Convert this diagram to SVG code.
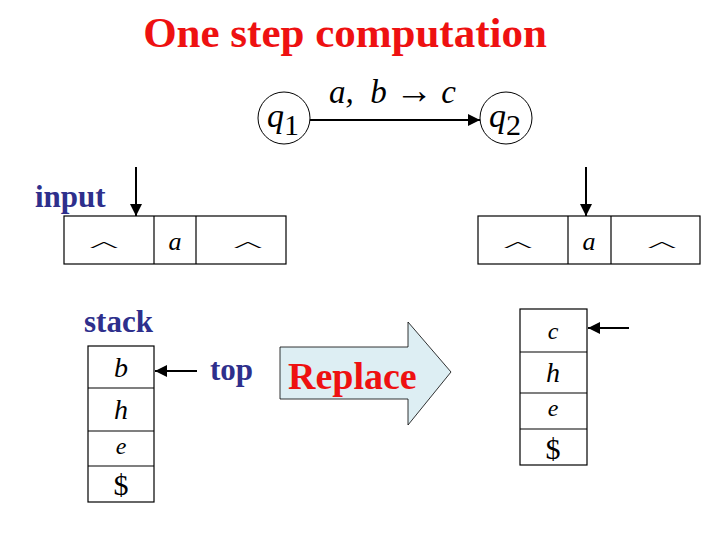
<svg xmlns="http://www.w3.org/2000/svg" width="720" height="540" viewBox="0 0 720 540">
<style>
.title{font-family:"Liberation Serif",serif;font-weight:bold;fill:#EE1111;font-size:43px}
.lbl{font-family:"Liberation Serif",serif;font-weight:bold;fill:#2E2F8C;font-size:31px}
.m{font-family:"Liberation Serif",serif;font-style:italic;fill:#000}
.n{font-family:"Liberation Serif",serif;fill:#000}
.box{fill:#fff;stroke:#000;stroke-width:1.2}
.ln{stroke:#000;stroke-width:2;fill:none}
</style>
<defs>
<marker id="ah" viewBox="0 0 10 10" refX="10" refY="5" markerWidth="6" markerHeight="6" orient="auto" markerUnits="strokeWidth">
<path d="M0,0 L10,5 L0,10 z" fill="#000"/>
</marker>
</defs>
<rect width="720" height="540" fill="#fff"/>
<text class="title" x="345" y="47" text-anchor="middle">One step computation</text>

<g id="q1">
<circle cx="284" cy="118" r="26" fill="#fff" stroke="#000" stroke-width="1"/>
<text class="m" x="267" y="127" font-size="34">q<tspan font-style="normal" font-size="30" dy="8">1</tspan></text>
</g>
<g id="q2">
<circle cx="506" cy="118" r="26" fill="#fff" stroke="#000" stroke-width="1"/>
<text class="m" x="489" y="127" font-size="34">q<tspan font-style="normal" font-size="30" dy="8">2</tspan></text>
</g>

<g id="connectors">
<line class="ln" x1="310" y1="120" x2="480" y2="120" marker-end="url(#ah)"/>
<line class="ln" x1="136" y1="167" x2="136" y2="216" marker-end="url(#ah)"/>
<line class="ln" x1="586" y1="167" x2="586" y2="216" marker-end="url(#ah)"/>
<line class="ln" x1="197" y1="371" x2="155" y2="371" marker-end="url(#ah)"/>
<line class="ln" x1="629" y1="328" x2="588" y2="328" marker-end="url(#ah)"/>
</g>
<text class="m" x="329" y="103" font-size="33" xml:space="preserve">a,  b <tspan font-style="normal" font-size="38">→</tspan> c</text>

<g id="input-label"><text class="lbl" x="35" y="207">input</text></g>

<g id="tape-left">
<rect class="box" x="64" y="216" width="222" height="48"/>
<line class="box" x1="154" y1="216" x2="154" y2="264"/>
<line class="box" x1="196" y1="216" x2="196" y2="264"/>
<text class="n" font-size="26" text-anchor="middle" transform="translate(104,250) scale(2.4,0.45)">^</text>
<text class="m" x="175" y="250" font-size="26" text-anchor="middle">a</text>
<text class="n" font-size="26" text-anchor="middle" transform="translate(248,250) scale(2.4,0.45)">^</text>
</g>

<g id="tape-right">
<rect class="box" x="478" y="216" width="222" height="48"/>
<line class="box" x1="568" y1="216" x2="568" y2="264"/>
<line class="box" x1="611" y1="216" x2="611" y2="264"/>
<text class="n" font-size="26" text-anchor="middle" transform="translate(518,250) scale(2.4,0.45)">^</text>
<text class="m" x="589" y="250" font-size="26" text-anchor="middle">a</text>
<text class="n" font-size="26" text-anchor="middle" transform="translate(662,250) scale(2.4,0.45)">^</text>
</g>

<g id="stack-label"><text class="lbl" x="84" y="332">stack</text></g>

<g id="stack-left">
<rect class="box" x="88" y="346" width="66" height="156"/>
<line class="box" x1="88" y1="388" x2="154" y2="388"/>
<line class="box" x1="88" y1="431" x2="154" y2="431"/>
<line class="box" x1="88" y1="466" x2="154" y2="466"/>
<text class="m" x="121" y="377" font-size="28" text-anchor="middle">b</text>
<text class="m" x="121" y="419" font-size="28" text-anchor="middle">h</text>
<text class="m" x="121" y="454" font-size="24" text-anchor="middle">e</text>
<text class="n" x="121" y="495" font-size="30" text-anchor="middle">$</text>
</g>

<g id="top-label"><text class="lbl" x="210" y="380">top</text></g>

<g id="replace">
<path d="M280,347 L408,347 L408,322 L451,372 L408,425 L408,399 L280,399 Z" fill="#DDEEF3" stroke="#000" stroke-width="0.8"/>
<text x="288" y="389" font-family="Liberation Serif,serif" font-weight="bold" font-size="38" fill="#EE1111">Replace</text>
</g>

<g id="stack-right">
<rect class="box" x="520" y="309" width="67" height="156"/>
<line class="box" x1="520" y1="352" x2="587" y2="352"/>
<line class="box" x1="520" y1="393" x2="587" y2="393"/>
<line class="box" x1="520" y1="429" x2="587" y2="429"/>
<text class="m" x="553" y="339" font-size="24" text-anchor="middle">c</text>
<text class="m" x="553" y="382" font-size="28" text-anchor="middle">h</text>
<text class="m" x="553" y="416" font-size="24" text-anchor="middle">e</text>
<text class="n" x="553" y="459" font-size="30" text-anchor="middle">$</text>
</g>
</svg>
